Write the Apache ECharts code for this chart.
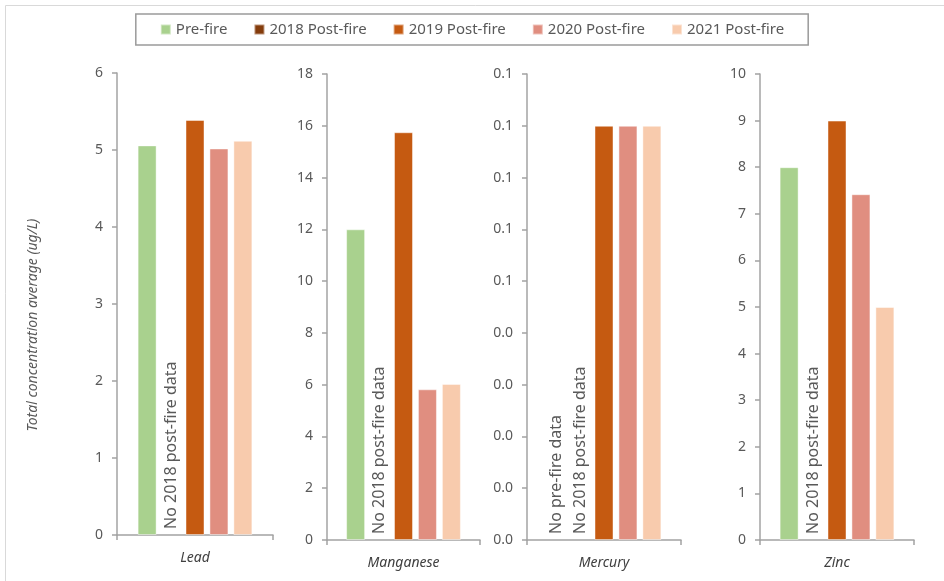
<!DOCTYPE html>
<html>
<head>
<meta charset="utf-8">
<script src="https://cdn.jsdelivr.net/npm/echarts@6/dist/echarts.min.js"></script>
<style>
  html, body { margin: 0; padding: 0; background: #fff; }
  #chart { width: 944px; height: 581px; }
</style>
</head>
<body>
<div id="chart"></div>
<script>
// Metals: total concentration averages (ug/L)
const categories = ['Lead', 'Manganese', 'Mercury', 'Zinc'];
const seriesNames = ['Pre-fire', '2018 Post-fire', '2019 Post-fire', '2020 Post-fire', '2021 Post-fire'];
const preFire  = [5.06, 12.0, null, 8.0];
const post2018 = [null, null, null, null];
const post2019 = [5.39, 15.75, 0.08, 9.0];
const post2020 = [5.02, 5.82, 0.08, 7.42];
const post2021 = [5.12, 6.03, 0.08, 5.0];

// Per-panel value axis ranges and tick spacing
const yMax      = [6, 18, 0.09, 10];
const yInterval = [1, 2, 0.01, 1];
const yDecimals = [0, 0, 1, 0];

// Notes shown where a panel has no data for a series
const missingNotes = {
  'Pre-fire': 'No pre-fire data',
  '2018 Post-fire': 'No 2018 post-fire data'
};

const colors = ['#A9D18E', '#843C0C', '#C55A11', '#E08E80', '#F8CBAD'];
const allValues = [preFire, post2018, post2019, post2020, post2021];

const grids = [
  { left: 117, top: 73, width: 156, height: 462 },
  { left: 327, top: 74, width: 153, height: 466 },
  { left: 527, top: 74, width: 154, height: 466 },
  { left: 760, top: 74, width: 154, height: 466 }
];

const FONT = '"Noto Sans", "Open Sans", sans-serif';
const axisGray = '#a3a3a3';

const xAxes = categories.map((c, i) => ({
  type: 'category',
  gridIndex: i,
  data: [c],
  axisLine: { lineStyle: { color: axisGray, width: 1.5 } },
  axisTick: { show: true, length: 5, lineStyle: { color: axisGray, width: 1.5 } },
  axisLabel: { fontFamily: FONT, fontStyle: 'italic', fontSize: 14, color: '#404040', margin: 16 }
}));

const yAxes = categories.map((c, i) => ({
  type: 'value',
  gridIndex: i,
  min: 0,
  max: yMax[i],
  interval: yInterval[i],
  splitLine: { show: false },
  axisLine: { show: true, lineStyle: { color: axisGray, width: 1.5 } },
  axisTick: { show: true, length: 5, lineStyle: { color: axisGray, width: 1.5 } },
  axisLabel: {
    fontFamily: FONT, fontSize: 14, color: '#595959', margin: 14,
    formatter: v => (v + 1e-9).toFixed(yDecimals[i])
  }
}));

const series = [];
categories.forEach((c, i) => {
  seriesNames.forEach((name, s) => {
    const v = allValues[s][i];
    let item;
    if (v === null) {
      item = {
        value: 0,
        itemStyle: { borderWidth: 0 },
        label: {
          show: !!missingNotes[name],
          formatter: missingNotes[name] || '',
          position: 'insideBottom',
          distance: 6,
          rotate: 90,
          align: 'left',
          verticalAlign: 'middle',
          fontFamily: FONT,
          fontSize: 16,
          color: '#595959'
        }
      };
    } else {
      item = { value: v };
    }
    series.push({
      name: name,
      type: 'bar',
      xAxisIndex: i,
      yAxisIndex: i,
      barWidth: 19,
      barGap: '26%',
      itemStyle: { color: colors[s], borderColor: 'rgba(255,255,255,0.45)', borderWidth: 1 },
      emphasis: { disabled: true },
      data: [item]
    });
  });
});

const chart = echarts.init(document.getElementById('chart'), null, { renderer: 'canvas' });
chart.setOption({
  animation: false,
  color: colors,
  legend: {
    data: seriesNames,
    left: 'center',
    top: 14,
    itemWidth: 10,
    itemHeight: 10,
    itemGap: 26,
    padding: [8, 24, 8, 24],
    borderColor: '#9a9a9a',
    borderWidth: 1.5,
    icon: 'rect',
    textStyle: { fontFamily: FONT, fontSize: 15, color: '#595959' },
    selectedMode: false
  },
  grid: grids,
  xAxis: xAxes,
  yAxis: yAxes,
  series: series,
  graphic: [
    {
      type: 'rect',
      shape: { x: 5.5, y: 5.5, width: 960, height: 600 },
      style: { fill: 'none', stroke: '#d9d9d9', lineWidth: 1 },
      silent: true
    },
    {
      type: 'text',
      x: 33,
      y: 325,
      rotation: Math.PI / 2,
      style: {
        text: 'Total concentration average (ug/L)',
        fontFamily: FONT,
        fontStyle: 'italic',
        fontSize: 14,
        fill: '#595959',
        align: 'center',
        verticalAlign: 'middle'
      },
      silent: true
    }
  ]
});
</script>
</body>
</html>
